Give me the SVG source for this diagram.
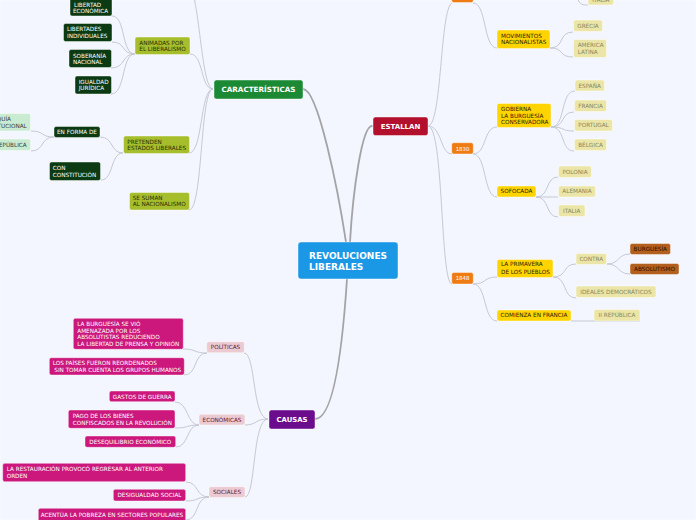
<svg xmlns="http://www.w3.org/2000/svg" width="696" height="520" viewBox="0 0 696 520">
<style>
text{font-family:"DejaVu Sans",Verdana,sans-serif;font-size:5.7px}
.m{text-anchor:middle}
.e{text-anchor:end}
.b{font-weight:bold}
rect{stroke:#ffffff;stroke-opacity:.55;stroke-width:.8}
.main{fill:none;stroke:#a4a4a8;stroke-width:1.8;stroke-linecap:round}
.sub{fill:none;stroke:#c6c9d3;stroke-width:1}
.dg rect{fill:#0c3b13}.dg text{fill:#ffffff}
.ol rect{fill:#a6bd2c}.ol text{fill:#2a2f06}
.lg rect{fill:#c8ebd1}.lg text{fill:#3c3c3c}
.ye rect{fill:#ffd400}.ye text{fill:#2a2200}
.kh rect{fill:#ebe6a7}.kh text{fill:#8a8660}
.br rect{fill:#b35f1d}.br text{fill:#2a1200}
.or rect{fill:#ef7c12}.or text{fill:#ffffff;font-size:5.4px}
.pk rect{fill:#eccad1}.pk text{fill:#5b1c3a}
.mg rect{fill:#cc187c}.mg text{fill:#ffffff}
</style>
<rect x="0" y="0" width="696" height="520" fill="#f3f6fe" stroke="none"/>
<g id="connectors">
<path class="main" d="M303,89 C318,89 338,190 346,242"/>
<path class="main" d="M372,126 C362,126 353,190 350,242"/>
<path class="main" d="M347,279 C343,340 335,419 315,419"/>
<path class="sub" d="M213,89 C200,89 200,-20 185,-20"/>
<path class="sub" d="M213,89 C200,89 204,54 190,54"/>
<path class="sub" d="M213,89 C200,89 203,153 189,153"/>
<path class="sub" d="M213,89 C200,89 203,210 189,210"/>
<path class="sub" d="M135,54 C121,54 126,16 112,16"/>
<path class="sub" d="M135,54 C121,54 126,42 112,42"/>
<path class="sub" d="M135,54 C121,54 126,68 111,68"/>
<path class="sub" d="M135,54 C121,54 126,94 111,94"/>
<path class="sub" d="M123,153 C110,153 114,137 100,137"/>
<path class="sub" d="M123,153 C110,153 114,180 101,180"/>
<path class="sub" d="M54,137 C40,137 45,131 31,131"/>
<path class="sub" d="M54,137 C40,137 45,151 31,151"/>
<path class="sub" d="M428,126 C442,126 440,8 452,3"/>
<path class="sub" d="M473,3 C487,3 483,48 497,48"/>
<path class="sub" d="M576,-10 C578,4 580,5 588,5"/>
<path class="sub" d="M550,48 C565,48 558,32 573,32"/>
<path class="sub" d="M550,48 C565,48 558,57 573,57"/>
<path class="sub" d="M428,126 C442,126 440,154 452,154"/>
<path class="sub" d="M473,154 C487,154 483,127 497,127"/>
<path class="sub" d="M473,154 C487,154 483,197 497,197"/>
<path class="sub" d="M551,127 C566,127 560,91 575,91"/>
<path class="sub" d="M551,127 C566,127 560,112 574,112"/>
<path class="sub" d="M551,127 C566,127 560,131 574,131"/>
<path class="sub" d="M551,127 C566,127 560,151 574,151"/>
<path class="sub" d="M536,197 C550,197 545,177 558,177"/>
<path class="sub" d="M536,197 L558,197"/>
<path class="sub" d="M536,197 C550,197 545,217 558,217"/>
<path class="sub" d="M428,126 C444,126 440,284 452,284"/>
<path class="sub" d="M473,284 C487,284 483,277 497,277"/>
<path class="sub" d="M473,284 C487,284 483,321 497,321"/>
<path class="sub" d="M553,277 C568,277 562,264 576,264"/>
<path class="sub" d="M553,277 C568,277 562,298 576,298"/>
<path class="sub" d="M607,264 C620,264 617,254 630,254"/>
<path class="sub" d="M607,264 C620,264 617,274 630,274"/>
<path class="sub" d="M571,321 L640,321"/>
<path class="sub" d="M268,419 C252,419 256,353 244,353"/>
<path class="sub" d="M268,419 C255,419 257,425 245,425"/>
<path class="sub" d="M268,419 C252,419 256,497 245,497"/>
<path class="sub" d="M207,353 C193,353 197,349 183,349"/>
<path class="sub" d="M207,353 C193,353 198,375 184,375"/>
<path class="sub" d="M199,425 C186,425 189,402 175,402"/>
<path class="sub" d="M199,425 C186,425 189,428 175,428"/>
<path class="sub" d="M199,425 C186,425 189,447 176,447"/>
<path class="sub" d="M209,497 C195,497 199,482 186,482"/>
<path class="sub" d="M209,497 C195,497 199,501 186,501"/>
<path class="sub" d="M209,497 C195,497 199,520 186,520"/>
</g>

<g id="central"><rect x="298" y="242" width="100" height="37" rx="3" fill="#1a98e6"/><text class="b" x="309" y="259" fill="#fff" font-size="9" style="font-size:9px">REVOLUCIONES</text><text class="b" x="309" y="270.3" fill="#fff" style="font-size:9px">LIBERALES</text></g>
<g id="caracteristicas"><rect x="214" y="80" width="89" height="19" rx="2.5" fill="#1c8a35"/><text class="b m" x="258.5" y="92" fill="#fff" style="font-size:7.2px">CARACTERÍSTICAS</text></g>
<g id="estallan"><rect x="373" y="117" width="55" height="18.5" rx="2.5" fill="#b3102d"/><text class="b m" x="400.5" y="128.8" fill="#fff" style="font-size:7px">ESTALLAN</text></g>
<g id="causas"><rect x="269" y="410" width="46" height="19" rx="2.5" fill="#6a0c8b"/><text class="b m" x="292" y="422" fill="#fff" style="font-size:6.9px">CAUSAS</text></g>

<g id="libertad-economica" class="dg"><rect x="70" y="-2" width="42" height="18" rx="2"/><text x="74" y="6.8">LIBERTAD</text><text x="73" y="12.8">ECONÓMICA</text></g>
<g id="libertades-individuales" class="dg"><rect x="63.5" y="23.5" width="48.5" height="18" rx="2"/><text x="67" y="31.4">LIBERTADES</text><text x="67" y="37.8">INDIVIDUALES</text></g>
<g id="soberania-nacional" class="dg"><rect x="69" y="49.5" width="42.5" height="18" rx="2"/><text x="73" y="58.1">SOBERANÍA</text><text x="73" y="64.1">NACIONAL</text></g>
<g id="igualdad-juridica" class="dg"><rect x="75" y="76" width="36.5" height="18" rx="2"/><text x="78.7" y="83.8">IGUALDAD</text><text x="78.7" y="89.8">JURÍDICA</text></g>
<g id="animadas" class="ol"><rect x="135" y="37" width="55" height="17.5" rx="2"/><text x="139.3" y="44.8">ANIMADAS POR</text><text x="139.3" y="50.8">EL LIBERALISMO</text></g>
<g id="pretenden" class="ol"><rect x="123.5" y="136" width="66" height="17.5" rx="2"/><text x="127.3" y="143.8">PRETENDEN</text><text x="127.3" y="149.8">ESTADOS LIBERALES</text></g>
<g id="se-suman" class="ol"><rect x="129.5" y="192.5" width="60" height="17.5" rx="2"/><text x="132.7" y="199.8">SE SUMAN</text><text x="132.7" y="206.4">AL NACIONALISMO</text></g>
<g id="en-forma-de" class="dg"><rect x="54" y="126.5" width="46" height="11" rx="2"/><text class="m" x="77" y="134.1">EN FORMA DE</text></g>
<g id="con-constitucion" class="dg"><rect x="49.5" y="162" width="51" height="18.5" rx="2"/><text x="52.7" y="169.8">CON</text><text x="52.7" y="176.8">CONSTITUCIÓN</text></g>
<g id="monarquia" class="lg"><rect x="-20" y="113.5" width="50.5" height="17.5" rx="2"/><text class="e" x="11" y="121.1">MONARQUÍA</text><text class="e" x="26.7" y="127.8">CONSTITUCIONAL</text></g>
<g id="republica" class="lg"><rect x="-10" y="139" width="40.5" height="11.5" rx="2"/><text class="e" x="26.7" y="147.1">REPÚBLICA</text></g>

<g id="top-year" class="or"><rect x="451.7" y="-10" width="21.6" height="12.5" rx="2"/></g>
<g id="italia-top" class="kh"><rect x="588" y="-8" width="25.5" height="13" rx="2"/><text class="m" x="600.8" y="2.3">ITALIA</text></g>
<g id="movimientos" class="ye"><rect x="497" y="30" width="53" height="18.5" rx="2"/><text x="501" y="37.8">MOVIMIENTOS</text><text x="501" y="44.4">NACIONALISTAS</text></g>
<g id="grecia" class="kh"><rect x="573.5" y="20" width="29" height="11.5" rx="2"/><text class="m" x="588" y="27.8">GRECIA</text></g>
<g id="america-latina" class="kh"><rect x="573.5" y="39.5" width="33" height="18" rx="2"/><text x="577.7" y="47.1">AMERICA</text><text x="577.7" y="53.8">LATINA</text></g>
<g id="y1830" class="or"><rect x="451.7" y="142.7" width="21.6" height="11.3" rx="2"/><text class="m" x="462.5" y="150.5">1830</text></g>
<g id="gobierna" class="ye"><rect x="497" y="103.5" width="54" height="24" rx="2"/><text x="501" y="111.1">GOBIERNA</text><text x="501" y="117.8">LA BURGUESÍA</text><text x="501" y="124.4">CONSERVADORA</text></g>
<g id="espana" class="kh"><rect x="575" y="80" width="29.5" height="11" rx="2"/><text class="m" x="589.7" y="87.8">ESPAÑA</text></g>
<g id="francia" class="kh"><rect x="574.5" y="100" width="32" height="11.5" rx="2"/><text class="m" x="590.5" y="107.8">FRANCIA</text></g>
<g id="portugal" class="kh"><rect x="574.5" y="119.5" width="38" height="11.5" rx="2"/><text class="m" x="593.5" y="127.1">PORTUGAL</text></g>
<g id="belgica" class="kh"><rect x="574.5" y="139" width="32" height="11.5" rx="2"/><text class="m" x="590.5" y="147.1">BÉLGICA</text></g>
<g id="sofocada" class="ye"><rect x="497" y="186" width="39" height="11" rx="2"/><text class="m" x="516.5" y="193.1">SOFOCADA</text></g>
<g id="polonia" class="kh"><rect x="558.5" y="166" width="33" height="11.5" rx="2"/><text class="m" x="575" y="173.8">POLONIA</text></g>
<g id="alemania" class="kh"><rect x="558.5" y="186" width="37" height="11" rx="2"/><text class="m" x="577" y="193.1">ALEMANIA</text></g>
<g id="italia" class="kh"><rect x="558.5" y="205" width="26.5" height="11.5" rx="2"/><text class="m" x="571.7" y="212.8">ITALIA</text></g>
<g id="y1848" class="or"><rect x="451.7" y="272.5" width="21.6" height="11.5" rx="2"/><text class="m" x="462.5" y="280.3">1848</text></g>
<g id="primavera" class="ye"><rect x="497" y="259.5" width="56" height="18" rx="2"/><text x="501" y="266.4">LA PRIMAVERA</text><text x="501" y="273.8">DE LOS PUEBLOS</text></g>
<g id="comienza" class="ye"><rect x="497" y="310" width="74" height="11" rx="2"/><text class="m" x="534" y="317.1">COMIENZA EN FRANCIA</text></g>
<g id="contra" class="kh"><rect x="576" y="253.5" width="30.5" height="11" rx="2"/><text class="m" x="591.3" y="261.1">CONTRA</text></g>
<g id="ideales" class="kh"><rect x="576" y="286" width="80" height="11.5" rx="2"/><text class="m" x="616" y="293.8">IDEALES DEMOCRÁTICOS</text></g>
<g id="ii-republica" class="kh"><rect x="594" y="309.5" width="46" height="11.5" rx="2"/><text class="m" x="617" y="317.1">II REPÚBLICA</text></g>
<g id="burguesia" class="br"><rect x="630" y="243.5" width="40.5" height="11" rx="2"/><text class="m" x="650.3" y="251.1">BURGUESÍA</text></g>
<g id="absolutismo" class="br"><rect x="630" y="263.5" width="49" height="11" rx="2"/><text class="m" x="654.5" y="271.1">ABSOLUTISMO</text></g>

<g id="politicas" class="pk"><rect x="206.7" y="341.7" width="37.6" height="11" rx="2"/><text class="m" x="225.5" y="349.1">POLÍTICAS</text></g>
<g id="economicas" class="pk"><rect x="199" y="414.3" width="46" height="10.7" rx="2"/><text class="m" x="222" y="421.8">ECONÓMICAS</text></g>
<g id="sociales" class="pk"><rect x="209" y="486.7" width="36" height="10.7" rx="2"/><text class="m" x="227" y="494.1">SOCIALES</text></g>
<g id="burguesia-amenazada" class="mg"><rect x="73.3" y="318.3" width="110" height="31" rx="2"/><text x="77.3" y="326.1">LA BURGUESÍA SE VIÓ</text><text x="77.3" y="332.8">AMENAZADA POR LOS</text><text x="77.3" y="339.1">ABSOLUTISTAS REDUCIENDO</text><text x="77.3" y="345.8">LA LIBERTAD DE PRENSA Y OPINIÓN</text></g>
<g id="paises-reordenados" class="mg"><rect x="49.3" y="357.7" width="135" height="17.3" rx="2"/><text x="52.7" y="364.8">LOS PAÍSES FUERON REORDENADOS</text><text x="54.3" y="372.1">SIN TOMAR CUENTA LOS GRUPOS HUMANOS</text></g>
<g id="gastos-guerra" class="mg"><rect x="109.3" y="391" width="65.7" height="10.7" rx="2"/><text class="m" x="142.2" y="399.4">GASTOS DE GUERRA</text></g>
<g id="pago-bienes" class="mg"><rect x="68.3" y="410" width="106.7" height="18.3" rx="2"/><text x="72.7" y="418.1">PAGO DE LOS BIENES</text><text x="72.7" y="424.8">CONFISCADOS EN LA REVOLUCIÓN</text></g>
<g id="desequilibrio" class="mg"><rect x="85" y="436" width="90.7" height="11.3" rx="2"/><text class="m" x="130.3" y="444.1">DESEQUILIBRIO ECONÓMICO</text></g>
<g id="restauracion" class="mg"><rect x="2.7" y="463.3" width="183" height="18.4" rx="2"/><text x="6.7" y="471.1">LA RESTAURACIÓN PROVOCÓ REGRESAR AL ANTERIOR</text><text x="6.7" y="477.8">ORDEN</text></g>
<g id="desigualdad" class="mg"><rect x="113.3" y="489.3" width="72.4" height="11.7" rx="2"/><text class="m" x="149.5" y="496.8">DESIGUALDAD SOCIAL</text></g>
<g id="acentua" class="mg"><rect x="38.3" y="508.3" width="147.4" height="14" rx="2"/><text class="m" x="112" y="517.1">ACENTÚA LA POBREZA EN SECTORES POPULARES</text></g>
</svg>
